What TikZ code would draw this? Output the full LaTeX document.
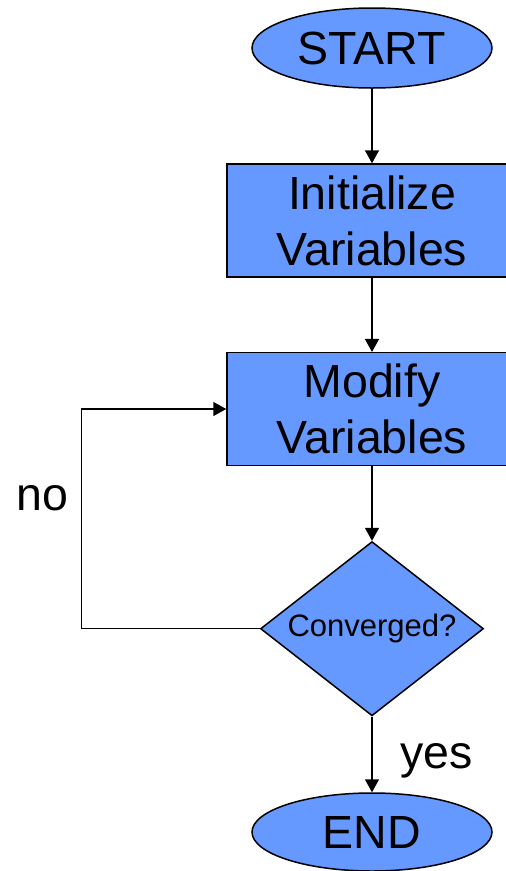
\documentclass[tikz,border=0pt]{standalone}
\usepackage{fontspec}
\setmainfont{Liberation Sans}
\usetikzlibrary{shapes.geometric,arrows.meta}
\definecolor{boxblue}{RGB}{102,153,255}
\begin{document}
\begin{tikzpicture}[x=1pt,y=-1pt,
  shapebox/.style={draw=black, fill=boxblue, line width=1.5pt, inner sep=0pt},
  big/.style={font=\fontsize{46.5}{56}\selectfont},
  small/.style={font=\fontsize{31}{37}\selectfont},
  arr/.style={-{Triangle[length=13pt,width=14pt]}, line width=1.5pt}]
\useasboundingbox (0,0) rectangle (506,871);
\clip (0,0) rectangle (506,871);
\node[shapebox, ellipse, minimum width=240pt, minimum height=80pt, big] (start) at (372,48) {START};
\node[shapebox, rectangle, minimum width=290pt, minimum height=113pt, align=center, big] (init) at (372,220.5) {Initialize\\Variables};
\node[shapebox, rectangle, minimum width=290pt, minimum height=112.6pt, align=center, big] (mod) at (372,409) {Modify\\Variables};
\node[shapebox, diamond, aspect=1.28, minimum width=223pt, minimum height=174.3pt, small] (dia) at (372,628.7) {Converged?};
\node[shapebox, ellipse, minimum width=240pt, minimum height=78pt, big] (end) at (372,832) {END};
\coordinate (loop) at (81.3,409);
\draw[arr] (start) -- (init);
\draw[arr] (init) -- (mod);
\draw[arr] (mod) -- (dia);
\draw[arr] (dia) -- (end);
\draw[arr] (dia.west) -| (loop) -- (mod.west);
\node[big] (no) at (42.7,498) {no};
\node[big, anchor=base] (yes) at (436.7,768) {yes};
\end{tikzpicture}
\end{document}
